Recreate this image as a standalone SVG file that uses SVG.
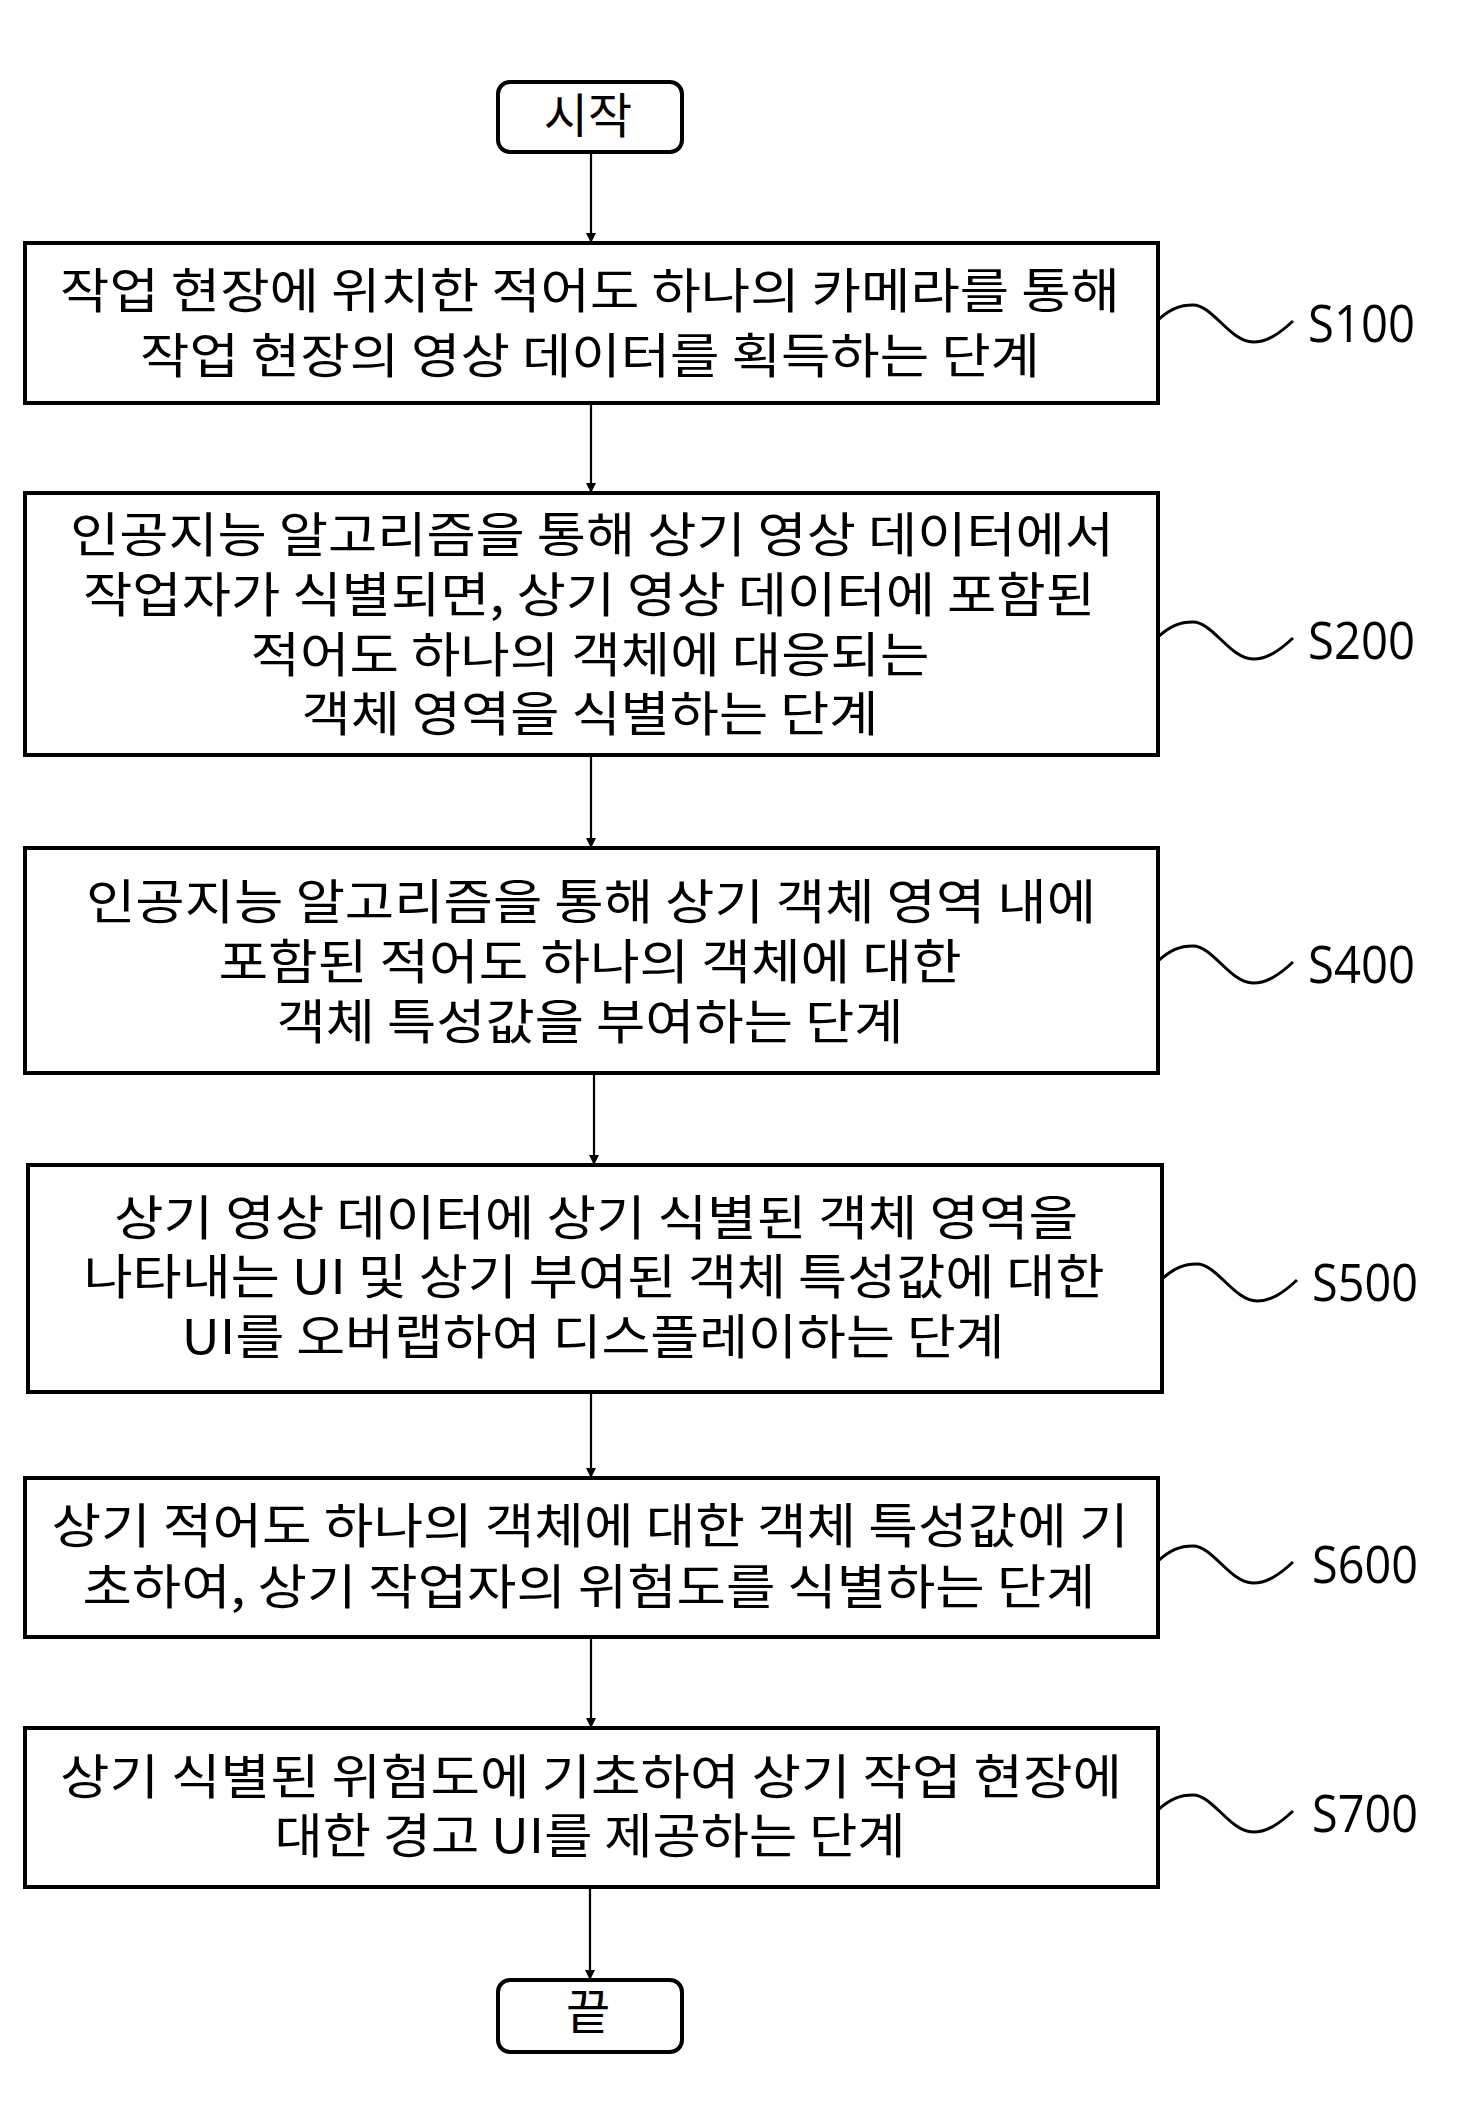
<svg xmlns="http://www.w3.org/2000/svg" width="1457" height="2105" viewBox="0 0 1457 2105">
<defs>
<style>
.box{fill:#fff;stroke:#000;stroke-width:4}
.term{fill:#fff;stroke:#000;stroke-width:4}
.t{font-family:"Noto Sans CJK KR","Noto Sans",sans-serif;font-size:48px;fill:#000;text-anchor:middle;dominant-baseline:central}
.lbl{font-family:"Open Sans","Liberation Sans",sans-serif;font-size:51px;fill:#000}
.wave{fill:none;stroke:#000;stroke-width:3}
.conn{stroke:#000;stroke-width:2.2;fill:none;marker-end:url(#ah)}
</style>
<marker id="ah" viewBox="0 0 10 20" refX="10" refY="10" markerWidth="10" markerHeight="20" markerUnits="userSpaceOnUse" orient="auto">
<path d="M0,5 L10,10 L0,15 Z" fill="#000"/>
</marker>
<path id="wv" d="M0,-22 C12,-33 22,-37 35,-37 C55,-37 72,0 95,0 C110,0 122,-9 135,-21"/>
</defs>
<rect width="1457" height="2105" fill="#fff"/>

<g id="connectors">
<path class="conn" d="M591,152 L591,243"/>
<path class="conn" d="M591,403 L591,493"/>
<path class="conn" d="M591,755 L591,848"/>
<path class="conn" d="M594,1073 L594,1165"/>
<path class="conn" d="M591,1392 L591,1478"/>
<path class="conn" d="M591,1637 L591,1728"/>
<path class="conn" d="M590,1887 L590,1980"/>
</g>

<g id="start">
<rect class="term" x="498" y="82" width="184" height="70" rx="12"/>
<text class="t" x="588" y="112">시작</text>
</g>

<g id="S100">
<rect class="box" x="25" y="243" width="1133" height="160"/>
<text class="t" x="590" y="287" textLength="1060" lengthAdjust="spacingAndGlyphs">작업 현장에 위치한 적어도 하나의 카메라를 통해</text>
<text class="t" x="590" y="352" textLength="900" lengthAdjust="spacingAndGlyphs">작업 현장의 영상 데이터를 획득하는 단계</text>
<use href="#wv" class="wave" transform="translate(1158,342)"/>
<text class="lbl" x="1308" y="342" textLength="107" lengthAdjust="spacingAndGlyphs">S100</text>
</g>

<g id="S200">
<rect class="box" x="25" y="493" width="1133" height="262"/>
<text class="t" x="592" y="531" textLength="1044" lengthAdjust="spacingAndGlyphs">인공지능 알고리즘을 통해 상기 영상 데이터에서</text>
<text class="t" x="589" y="591" textLength="1012" lengthAdjust="spacingAndGlyphs">작업자가 식별되면, 상기 영상 데이터에 포함된</text>
<text class="t" x="590" y="651" textLength="679" lengthAdjust="spacingAndGlyphs">적어도 하나의 객체에 대응되는</text>
<text class="t" x="590" y="710" textLength="577" lengthAdjust="spacingAndGlyphs">객체 영역을 식별하는 단계</text>
<use href="#wv" class="wave" transform="translate(1158,659)"/>
<text class="lbl" x="1308" y="659" textLength="107" lengthAdjust="spacingAndGlyphs">S200</text>
</g>

<g id="S400">
<rect class="box" x="25" y="848" width="1133" height="225"/>
<text class="t" x="591" y="898" textLength="1010" lengthAdjust="spacingAndGlyphs">인공지능 알고리즘을 통해 상기 객체 영역 내에</text>
<text class="t" x="590" y="958" textLength="743" lengthAdjust="spacingAndGlyphs">포함된 적어도 하나의 객체에 대한</text>
<text class="t" x="590" y="1018" textLength="627" lengthAdjust="spacingAndGlyphs">객체 특성값을 부여하는 단계</text>
<use href="#wv" class="wave" transform="translate(1158,983)"/>
<text class="lbl" x="1308" y="983" textLength="107" lengthAdjust="spacingAndGlyphs">S400</text>
</g>

<g id="S500">
<rect class="box" x="28" y="1165" width="1134" height="227"/>
<text class="t" x="596" y="1214" textLength="964" lengthAdjust="spacingAndGlyphs">상기 영상 데이터에 상기 식별된 객체 영역을</text>
<text class="t" x="594" y="1273" textLength="1021" lengthAdjust="spacingAndGlyphs">나타내는 UI 및 상기 부여된 객체 특성값에 대한</text>
<text class="t" x="593" y="1333" textLength="823" lengthAdjust="spacingAndGlyphs">UI를 오버랩하여 디스플레이하는 단계</text>
<use href="#wv" class="wave" transform="translate(1162,1301)"/>
<text class="lbl" x="1312" y="1301" textLength="106" lengthAdjust="spacingAndGlyphs">S500</text>
</g>

<g id="S600">
<rect class="box" x="25" y="1478" width="1133" height="159"/>
<text class="t" x="590" y="1522" textLength="1077" lengthAdjust="spacingAndGlyphs">상기 적어도 하나의 객체에 대한 객체 특성값에 기</text>
<text class="t" x="589" y="1583" textLength="1013" lengthAdjust="spacingAndGlyphs">초하여, 상기 작업자의 위험도를 식별하는 단계</text>
<use href="#wv" class="wave" transform="translate(1158,1583)"/>
<text class="lbl" x="1312" y="1583" textLength="106" lengthAdjust="spacingAndGlyphs">S600</text>
</g>

<g id="S700">
<rect class="box" x="25" y="1728" width="1133" height="159"/>
<text class="t" x="591" y="1773" textLength="1062" lengthAdjust="spacingAndGlyphs">상기 식별된 위험도에 기초하여 상기 작업 현장에</text>
<text class="t" x="590" y="1832" textLength="631" lengthAdjust="spacingAndGlyphs">대한 경고 UI를 제공하는 단계</text>
<use href="#wv" class="wave" transform="translate(1158,1832)"/>
<text class="lbl" x="1312" y="1832" textLength="106" lengthAdjust="spacingAndGlyphs">S700</text>
</g>

<g id="end">
<rect class="term" x="498" y="1980" width="184" height="72" rx="12"/>
<text class="t" x="588" y="2008">끝</text>
</g>
</svg>
